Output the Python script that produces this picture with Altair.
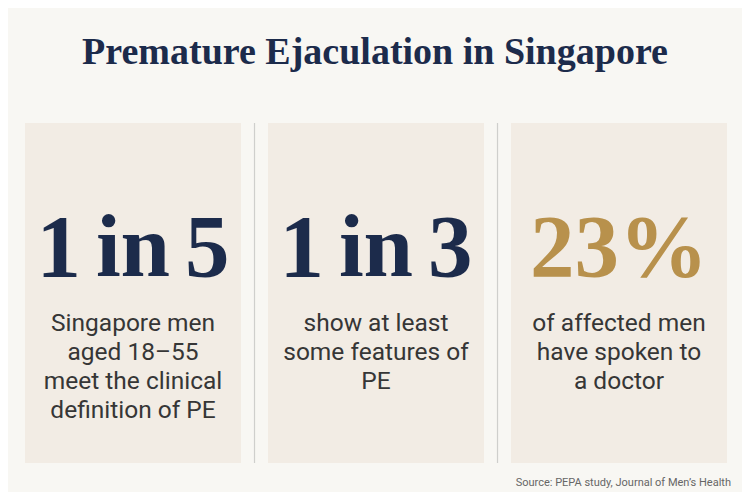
import pandas as pd
import altair as alt

# Palette
BG = "#f8f7f3"
PANEL_BG = "#f2ece4"
DIVIDER = "#cfcfcc"
NAVY = "#1c2b4b"
GOLD = "#b8914c"
TEXT_BODY = "#363636"
TEXT_SRC = "#666666"

TITLE = "Premature Ejaculation in Singapore"
SOURCE = "Source: PEPA study, Journal of Men\u2019s Health"

# Data
panels = ["A", "B", "C"]
headlines = ["1\u2006in\u20065", "1\u2006in\u20063", "23%"]
captions = [
    "Singapore men\naged 18\u201355\nmeet the clinical\ndefinition of PE",
    "show at least\nsome features of\nPE",
    "of affected men\nhave spoken to\na doctor",
]

df = pd.DataFrame({"panel": panels, "headline": headlines, "caption": captions})

# plot area is the whole picture minus the 8px page margin
W, H = 734, 484
band = alt.Scale(range=[17, 719], paddingInner=0.111, paddingOuter=0)
x_enc = alt.X("panel:N", axis=None, scale=band)

base = alt.Chart(df)

cards = base.mark_rect(color=PANEL_BG).encode(
    x=x_enc, y=alt.value(115), y2=alt.value(455)
)

# thin rules between the cards
dividers = alt.Chart(df.iloc[:2]).mark_rule(color=DIVIDER, strokeWidth=1.2, xOffset=13.5).encode(
    x=alt.X("panel:N", axis=None, bandPosition=1, scale=band),
    y=alt.value(115), y2=alt.value(455)
)

big = base.mark_text(font="Liberation Serif", fontWeight="bold", fontSize=89,
                     baseline="alphabetic", align="center").encode(
    x=x_enc, y=alt.value(268), text="headline:N",
    color=alt.Color("panel:N", scale=alt.Scale(domain=panels, range=[NAVY, NAVY, GOLD]), legend=None),
)

body = base.mark_text(font="Roboto", fontSize=24.5, color=TEXT_BODY, lineBreak="\n",
                      lineHeight=29, baseline="alphabetic", align="center").encode(
    x=x_enc, y=alt.value(323), text="caption:N"
)

title = alt.Chart(pd.DataFrame({"t": [TITLE]})).mark_text(
    font="Liberation Serif", fontWeight="bold", fontSize=38, color=NAVY,
    baseline="alphabetic", align="center"
).encode(x=alt.value(367), y=alt.value(56), text="t:N")

source = alt.Chart(pd.DataFrame({"t": [SOURCE]})).mark_text(
    font="Roboto", fontSize=11, color=TEXT_SRC, baseline="alphabetic", align="right"
).encode(x=alt.value(723), y=alt.value(478), text="t:N")

chart = alt.layer(cards, dividers, big, body, title, source).properties(
    width=W, height=H, autosize="none", padding=0, background=BG
).configure_view(stroke=None)

chart.save("out.html", embed_options={"renderer": "svg", "actions": False})
